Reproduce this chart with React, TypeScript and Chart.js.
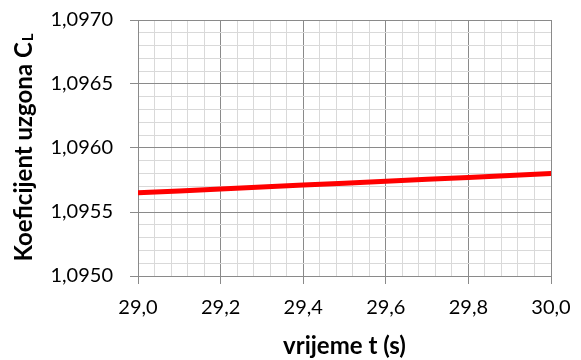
import React, { useEffect, useRef } from "react";
import { Chart, registerables } from "chart.js";

Chart.register(...registerables);

const times = [29.0, 29.1, 29.2, 29.3, 29.4, 29.5, 29.6, 29.7, 29.8, 29.9, 30.0];
const liftCoeff = [1.09565, 1.095665, 1.09568, 1.095695, 1.09571, 1.095725, 1.09574, 1.095755, 1.09577, 1.095785, 1.0958];
const xTitle = "vrijeme t (s)";
const yTitleMain = "Koeficijent uzgona C";
const yTitleSub = "L";

const MAJOR = "#8a8a8a";
const MINOR = "#d9d9d9";
const FONT = "Lato, 'Open Sans', sans-serif";

const isMajorX = (v: number) => Math.round(v * 100) % 20 === 0;
const isMajorY = (v: number) => Math.round(v * 100000) % 50 === 0;

export default function App() {
  const ref = useRef<HTMLCanvasElement | null>(null);
  useEffect(() => {
    if (!ref.current) return;
    const titles = {
      id: "titles",
      afterDraw(chart: any) {
        const ctx = chart.ctx;
        const area = chart.chartArea;
        ctx.save();
        ctx.fillStyle = "#000";
        ctx.font = `bold 24px ${FONT}`;
        ctx.textAlign = "center";
        ctx.textBaseline = "middle";
        ctx.fillText(xTitle, (area.left + area.right) / 2, 346);
        // y title rotated
        ctx.translate(23, (area.top + area.bottom) / 2);
        ctx.rotate(-Math.PI / 2);
        ctx.font = `bold 24px ${FONT}`;
        const w1 = ctx.measureText(yTitleMain).width;
        ctx.font = `bold 15px ${FONT}`;
        const w2 = ctx.measureText(yTitleSub).width;
        const total = w1 + w2;
        ctx.textAlign = "left";
        ctx.textBaseline = "alphabetic";
        ctx.font = `bold 24px ${FONT}`;
        ctx.fillText(yTitleMain, -total / 2, 9);
        ctx.font = `bold 15px ${FONT}`;
        ctx.fillText(yTitleSub, -total / 2 + w1 + 1, 10);
        ctx.restore();
      },
    };
    const chart = new Chart(ref.current, {
      type: "line",
      data: {
        datasets: [
          {
            data: times.map((t, i) => ({ x: t, y: liftCoeff[i] })),
            borderColor: "#ff0000",
            borderWidth: 5,
            pointRadius: 0,
            borderCapStyle: "round",
            tension: 0,
          },
        ],
      },
      options: {
        animation: false,
        responsive: false,
        layout: { padding: { top: 20, right: 30, left: 0, bottom: 0 } },
        plugins: { legend: { display: false }, tooltip: { enabled: false } },
        scales: {
          x: {
            type: "linear",
            min: 29,
            max: 30,
            afterFit: (s: any) => {
              s.height = 84;
              s.paddingLeft = 0;
              s.paddingRight = 0;
            },
            border: { color: MAJOR, width: 1 },
            grid: {
              color: (c: any) => (isMajorX(c.tick.value) ? MAJOR : MINOR),
              lineWidth: 1,
              tickLength: 8,
              tickColor: (c: any) => (isMajorX(c.tick.value) ? MAJOR : "rgba(0,0,0,0)"),
            },
            ticks: {
              stepSize: 0.04,
              autoSkip: false,
              maxRotation: 0,
              padding: 12,
              color: "#000",
              font: { family: FONT, size: 20 },
              callback: (v: any) => (isMajorX(Number(v)) ? Number(v).toFixed(1).replace(".", ",") : ""),
            },
          },
          y: {
            type: "linear",
            min: 1.095,
            max: 1.097,
            afterFit: (s: any) => {
              s.width = 138;
              s.paddingTop = 0;
              s.paddingBottom = 0;
            },
            border: { color: MAJOR, width: 1 },
            grid: {
              color: (c: any) => (isMajorY(c.tick.value) ? MAJOR : MINOR),
              lineWidth: 1,
              tickLength: 8,
              tickColor: (c: any) => (isMajorY(c.tick.value) ? MAJOR : "rgba(0,0,0,0)"),
            },
            ticks: {
              stepSize: 0.0001,
              autoSkip: false,
              padding: 17,
              color: "#000",
              font: { family: FONT, size: 20 },
              callback: (v: any) => (isMajorY(Number(v)) ? Number(v).toFixed(4).replace(".", ",") : ""),
            },
          },
        },
      },
      plugins: [titles],
    } as any);
    return () => chart.destroy();
  }, []);
  return (
    <div style={{ position: "fixed", left: 0, top: 0, width: 581, height: 360, background: "#fff" }}>
      <canvas ref={ref} width={581} height={360} style={{ width: 581, height: 360 }} />
    </div>
  );
}
